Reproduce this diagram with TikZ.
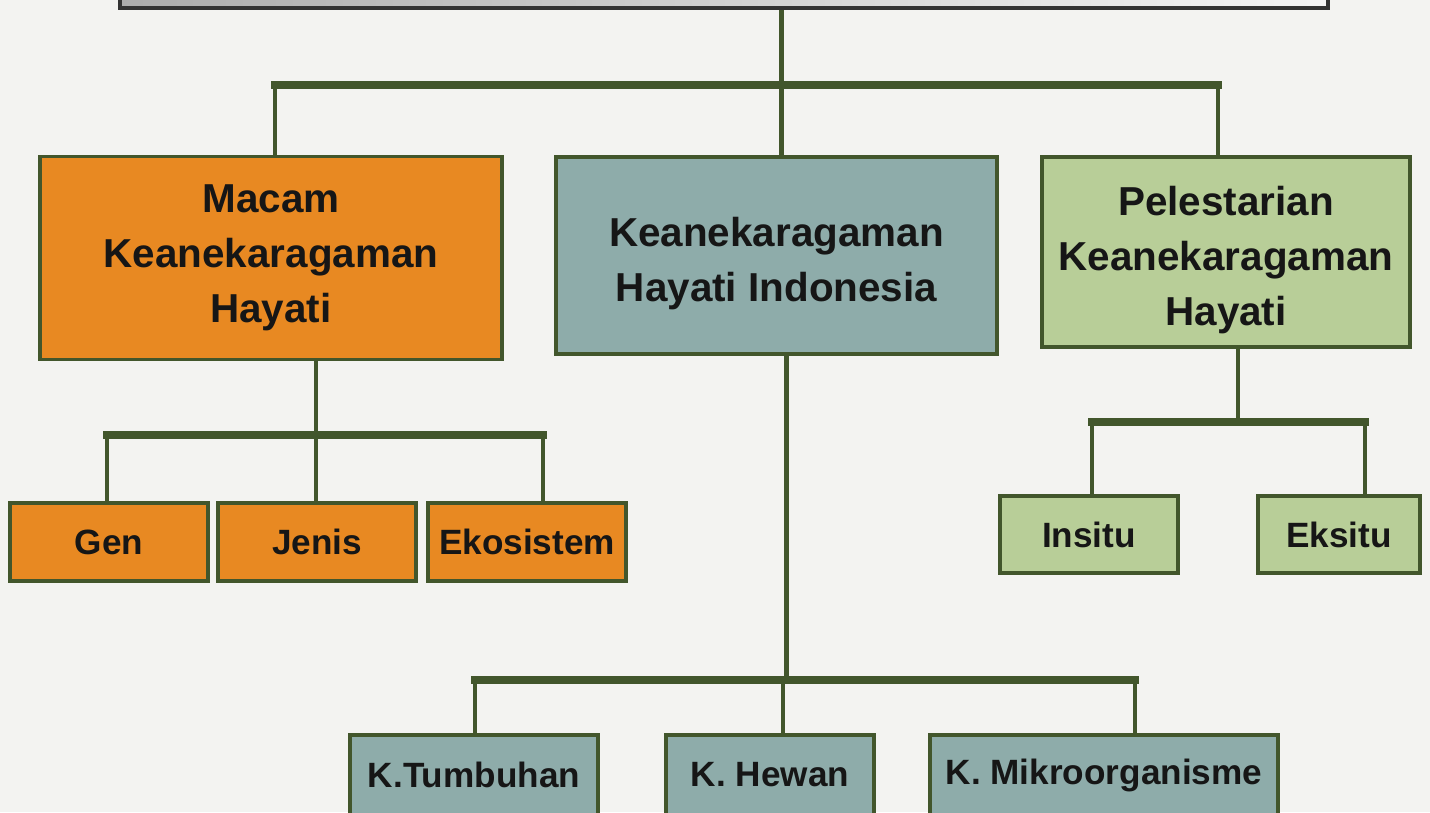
\documentclass[tikz,border=0pt]{standalone}
\usepackage{fontspec}
\setmainfont{Liberation Sans}
\usetikzlibrary{positioning,calc}
\definecolor{bgcolor}{RGB}{243,243,241}
\definecolor{linecolor}{RGB}{66,86,44}
\definecolor{macamcolor}{RGB}{232,137,34}
\definecolor{indocolor}{RGB}{142,172,170}
\definecolor{lestaricolor}{RGB}{184,206,152}
\definecolor{txtcolor}{RGB}{22,22,22}
\tikzset{
  treebox/.style  = {draw=linecolor, line width=0.9pt, align=center, inner sep=0pt,
                     text=txtcolor},
  bigbox/.style   = {treebox, font=\fontsize{11.5}{15.6}\selectfont\bfseries},
  smallbox/.style = {treebox, font=\fontsize{10}{12}\selectfont\bfseries},
  macam/.style    = {fill=macamcolor},
  indo/.style     = {fill=indocolor},
  lestari/.style  = {fill=lestaricolor},
  conn/.style     = {draw=linecolor, line width=1.4pt},
  bar/.style      = {draw=linecolor, line width=2.2pt, line cap=rect}
}

\begin{document}
\begin{tikzpicture}[x=0.1mm,y=-0.1mm]

% page and background
\clip (0,0) rectangle (1430,812);
\fill[bgcolor] (0,0) rectangle (1430,812);

% --- title box (cut at the top) ---
\node[treebox, draw=black!80, left color=gray!65, right color=gray!8, minimum width=120.8mm,
      minimum height=7.6mm] (top) at (724,-30) {};

% --- second level ---
\node[bigbox, macam, minimum width=46.2mm, minimum height=20.3mm] (macamkh) at (271,258)
  {Macam\\Keanekaragaman\\Hayati};
\node[bigbox, indo, minimum width=44.1mm, minimum height=19.7mm] (indokh) at (776.5,255.5)
  {\rule{0pt}{13pt}Keanekaragaman\\Hayati Indonesia};
\node[bigbox, lestari, minimum width=36.8mm, minimum height=19mm] (lestarikh) at (1226,252)
  {\rule{0pt}{13pt}Pelestarian\\Keanekaragaman\\Hayati};

% --- third level: macam ---
\foreach \x/\name/\txt in {109/gen/Gen, 317/jenis/Jenis, 527/eko/Ekosistem}{
  \node[smallbox, macam, minimum width=19.8mm, minimum height=7.8mm] (\name) at (\x,542) {\txt};
}

% --- third level: pelestarian ---
\node[smallbox, lestari, minimum width=17.8mm, minimum height=7.7mm] (insitu) at (1089,534.5) {Insitu};
\node[smallbox, lestari, minimum width=16.2mm, minimum height=7.7mm] (eksitu) at (1339,534.5) {Eksitu};

% --- third level: indonesia (cut at the bottom) ---
\node[smallbox, indo, minimum width=24.8mm, minimum height=8mm] (tumbuhan) at (474,775) {K.Tumbuhan};
\node[smallbox, indo, minimum width=20.8mm, minimum height=8mm] (hewan) at (770,775) {K. Hewan};
\node[smallbox, indo, minimum width=34.8mm, minimum height=8mm] (mikro) at (1104,775) {K. Mikroorganisme};

% --- connections: title -> second level ---
\coordinate (bar1) at (0,85);
\draw[conn] ([xshift=0.5mm]top.south -| indokh.north) -- ([xshift=0.5mm]bar1 -| indokh.north);
\draw[bar] ([xshift=0.4mm]bar1 -| macamkh.north) -- ([xshift=-0.8mm]bar1 -| lestarikh.north);
\draw[conn] ([xshift=0.4mm]bar1 -| macamkh.north) -- ([xshift=0.4mm]macamkh.north);
\draw[conn] ([xshift=0.5mm]bar1 -| indokh.north) -- ([xshift=0.5mm]indokh.north);
\draw[conn] ([xshift=-0.8mm]bar1 -| lestarikh.north) -- ([xshift=-0.8mm]lestarikh.north);

% --- connections: macam -> gen, jenis, ekosistem ---
\coordinate (bar2) at (0,435);
\draw[conn] ([xshift=4.5mm]macamkh.south) -- ([xshift=4.5mm]bar2 -| macamkh.south);
\draw[bar] ([xshift=-0.2mm]bar2 -| gen.north) -- ([xshift=1.6mm]bar2 -| eko.north);
\foreach \name/\dx in {gen/-0.2, jenis/-0.1, eko/1.6}{
  \draw[conn] ([xshift=\dx mm]bar2 -| \name.north) -- ([xshift=\dx mm]\name.north);
}

% --- connections: indonesia -> tumbuhan, hewan, mikroorganisme ---
\coordinate (bar3) at (0,680);
\draw[conn] ([xshift=1mm]indokh.south) -- ([xshift=1mm]bar3 -| indokh.south);
\draw[bar] ([xshift=0.1mm]bar3 -| tumbuhan.north) -- ([xshift=3.1mm]bar3 -| mikro.north);
\foreach \name/\dx in {tumbuhan/0.1, hewan/1.3, mikro/3.1}{
  \draw[conn] ([xshift=\dx mm]bar3 -| \name.north) -- ([xshift=\dx mm]\name.north);
}

% --- connections: pelestarian -> insitu, eksitu ---
\coordinate (bar4) at (0,422);
\draw[conn] ([xshift=1.2mm]lestarikh.south) -- ([xshift=1.2mm]bar4 -| lestarikh.south);
\draw[bar] ([xshift=0.3mm]bar4 -| insitu.north) -- ([xshift=2.6mm]bar4 -| eksitu.north);
\foreach \name/\dx in {insitu/0.3, eksitu/2.6}{
  \draw[conn] ([xshift=\dx mm]bar4 -| \name.north) -- ([xshift=\dx mm]\name.north);
}

\end{tikzpicture}
\end{document}
